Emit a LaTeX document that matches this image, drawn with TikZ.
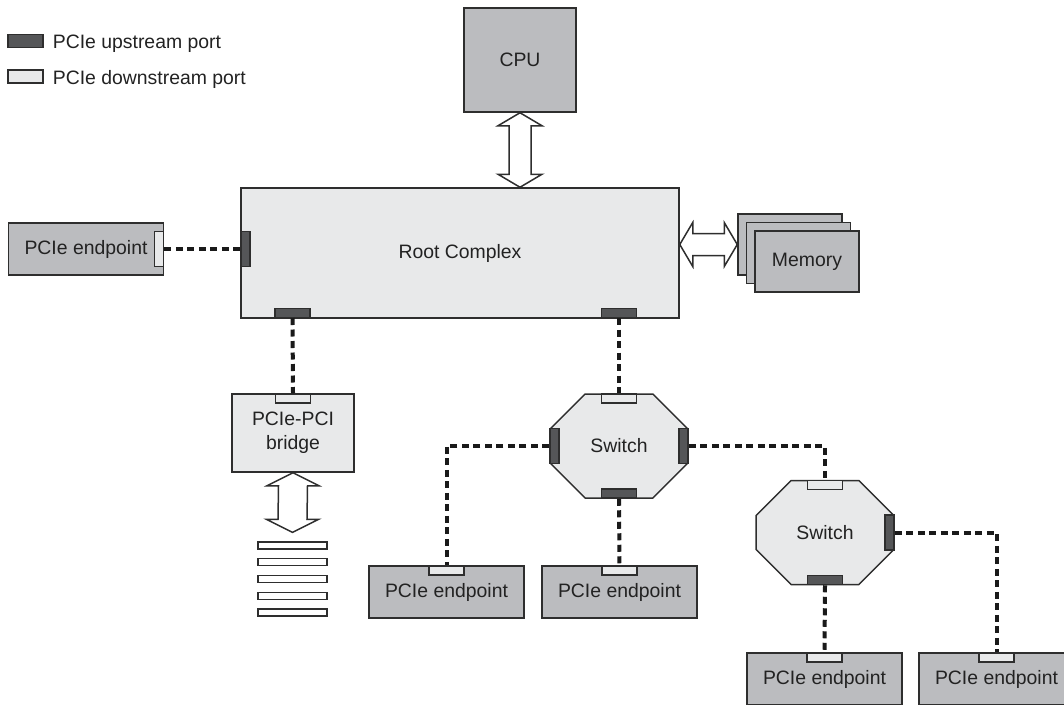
\documentclass[tikz,border=0pt]{standalone}
\usepackage{fontspec}
\setmainfont{Liberation Sans}
\usetikzlibrary{calc,positioning,shapes.misc}

\definecolor{borderColour}{HTML}{2E2E2E}
\definecolor{textColour}{HTML}{222222}
\definecolor{fillGrey}{HTML}{BBBCBF}
\definecolor{fillLight}{HTML}{E8E9EA}
\definecolor{portDark}{HTML}{555658}
\definecolor{linkColour}{HTML}{1A1A1A}

\tikzset{
  box/.style={draw=borderColour, line width=1.5pt, inner sep=0pt, align=center,
    text=textColour, font=\fontsize{19.4}{24}\selectfont},
  gbox/.style={box, fill=fillGrey},
  lbox/.style={box, fill=fillLight},
  epbox/.style={gbox, minimum width=155pt, minimum height=52pt},
  swbox/.style={lbox, chamfered rectangle, chamfered rectangle xsep=28pt,
    chamfered rectangle ysep=28pt, minimum width=138pt, minimum height=104pt},
  port/.style={draw=borderColour, line width=1.3pt, inner sep=0pt},
  uport/.style={port, fill=portDark},
  dport/.style={port, fill=fillLight},
  hport/.style={minimum width=35pt, minimum height=9pt},
  vport/.style={minimum width=9pt, minimum height=35pt},
  legtext/.style={inner sep=0pt, anchor=base west, text=textColour, font=\fontsize{19.4}{24}\selectfont},
  link/.style={line width=4pt, dash pattern=on 7pt off 4.5pt, draw=linkColour},
  fatarrow/.style={draw=borderColour, line width=1.5pt, fill=white, line join=miter},
}

% vertical double arrow: #1 top tip, #2 bottom tip, #3 head half width, #4 shaft half width
\newcommand{\fatarrowV}[4]{%
  \draw[fatarrow] (#1) -- ($(#1)+(#3,13)$) -- ($(#1)+(#4,13)$) -- ($(#2)+(#4,-13)$)
    -- ($(#2)+(#3,-13)$) -- (#2) -- ($(#2)+(-#3,-13)$) -- ($(#2)+(-#4,-13)$)
    -- ($(#1)+(-#4,13)$) -- ($(#1)+(-#3,13)$) -- cycle;}
% horizontal double arrow: #1 left tip, #2 right tip
\newcommand{\fatarrowH}[4]{%
  \draw[fatarrow] (#1) -- ($(#1)+(13,-#3)$) -- ($(#1)+(13,-#4)$) -- ($(#2)+(-13,-#4)$)
    -- ($(#2)+(-13,-#3)$) -- (#2) -- ($(#2)+(-13,#3)$) -- ($(#2)+(-13,#4)$)
    -- ($(#1)+(13,#4)$) -- ($(#1)+(13,#3)$) -- cycle;}

\begin{document}
\begin{tikzpicture}[x=1pt, y=-1pt]
    \useasboundingbox (0,0) rectangle (1064,704);
    \clip (0,0) rectangle (1064,704);

    % Legend
    \node[uport, minimum width=35pt, minimum height=13pt] (legU) at (25.5,41) {};
    \node[legtext] (legUt) at ($(legU.east)+(9,7.5)$) {PCIe upstream port};
    \node[dport, minimum width=35pt, minimum height=13pt] (legD) at (25.5,76.5) {};
    \node[legtext] (legDt) at ($(legD.east)+(9,7.5)$) {PCIe downstream port};

    % CPU and root complex
    \node[gbox, minimum width=112pt, minimum height=104pt] (cpu) at (520,60) {CPU};
    \node[lbox, minimum width=438pt, minimum height=130pt] (rc) at (460,253) {Root Complex};

    % Memory stack
    \foreach \i/\t in {0/,1/,2/Memory}
        \node[gbox, minimum width=104pt, minimum height=61pt] (mem\i) at (790+8.5*\i,244.5+8.5*\i) {\t};

    % Endpoints
    \node[epbox] (ep0) at (86,249) {PCIe endpoint};
    \node[epbox] (ep1) at (446.5,592) {PCIe endpoint};
    \node[epbox] (ep2) at (619.5,592) {PCIe endpoint};
    \node[epbox] (ep3) at (824.5,679) {PCIe endpoint};
    \node[epbox] (ep4) at (996.5,679) {PCIe endpoint};

    % PCIe-PCI bridge and its bus
    \node[lbox, minimum width=122pt, minimum height=78pt] (br) at (293,433) {PCIe-PCI\\bridge};
    \foreach \i in {1,...,5}
        \node[port, fill=white, minimum width=69pt, minimum height=7pt] (bar\i) at (292.5,528.75+16.75*\i) {};

    % Switches
    \node[swbox] (sw1) at (619,446) {Switch};
    \node[swbox] (sw2) at (825,532.5) {Switch};

    % Ports
    \node[dport, vport, anchor=east] (ep0P) at (ep0.east) {};
    \node[uport, vport, anchor=west] (rcL) at (rc.west |- ep0P.west) {};
    \node[uport, hport, anchor=south] (rcB1) at (292.5,318) {};
    \node[uport, hport, anchor=south] (rcB2) at (619,318) {};
    \node[dport, hport, anchor=north] (brP) at (br.north) {};
    \node[dport, hport, anchor=north] (sw1T) at (sw1.north) {};
    \node[uport, hport, anchor=south] (sw1B) at (sw1.south) {};
    \node[uport, vport, anchor=west] (sw1L) at (sw1.west) {};
    \node[uport, vport, anchor=east] (sw1R) at (sw1.east) {};
    \node[dport, hport, anchor=north] (sw2T) at (sw2.north) {};
    \node[uport, hport, anchor=south] (sw2B) at (sw2.south) {};
    \node[uport, vport, anchor=east] (sw2R) at (sw2.east) {};
    \foreach \e in {1,...,4}
        \node[dport, hport, anchor=north] (ep\e P) at (ep\e.north) {};

    % Links
    \draw[link] (ep0P.east) -- (rcL.west);
    \draw[link] (rcB1.south) -- (brP.north);
    \draw[link] (rcB2.south) -- (sw1T.north);
    \draw[link] (sw1L.west) -| (ep1P.north);
    \draw[link] (sw1B.south) -- (ep2P.north);
    \draw[link] (sw1R.east) -| (sw2T.north);
    \draw[link] (sw2B.south) -- (ep3P.north);
    \draw[link] (sw2R.east) -| (ep4P.north);

    % Fat double arrows
    \coordinate (cpuB) at (cpu.south);
    \coordinate (rcT) at (cpu.south |- rc.north);
    \fatarrowV{cpuB}{rcT}{22}{11}
    \coordinate (rcR) at (rc.east |- mem0.west);
    \coordinate (memL) at (mem0.west);
    \fatarrowH{rcR}{memL}{22}{11}
    \coordinate (brB) at (br.south);
    \coordinate (busT) at ($(bar1.north)+(0,-9)$);
    \fatarrowV{brB}{busT}{26}{14.5}

\end{tikzpicture}
\end{document}
